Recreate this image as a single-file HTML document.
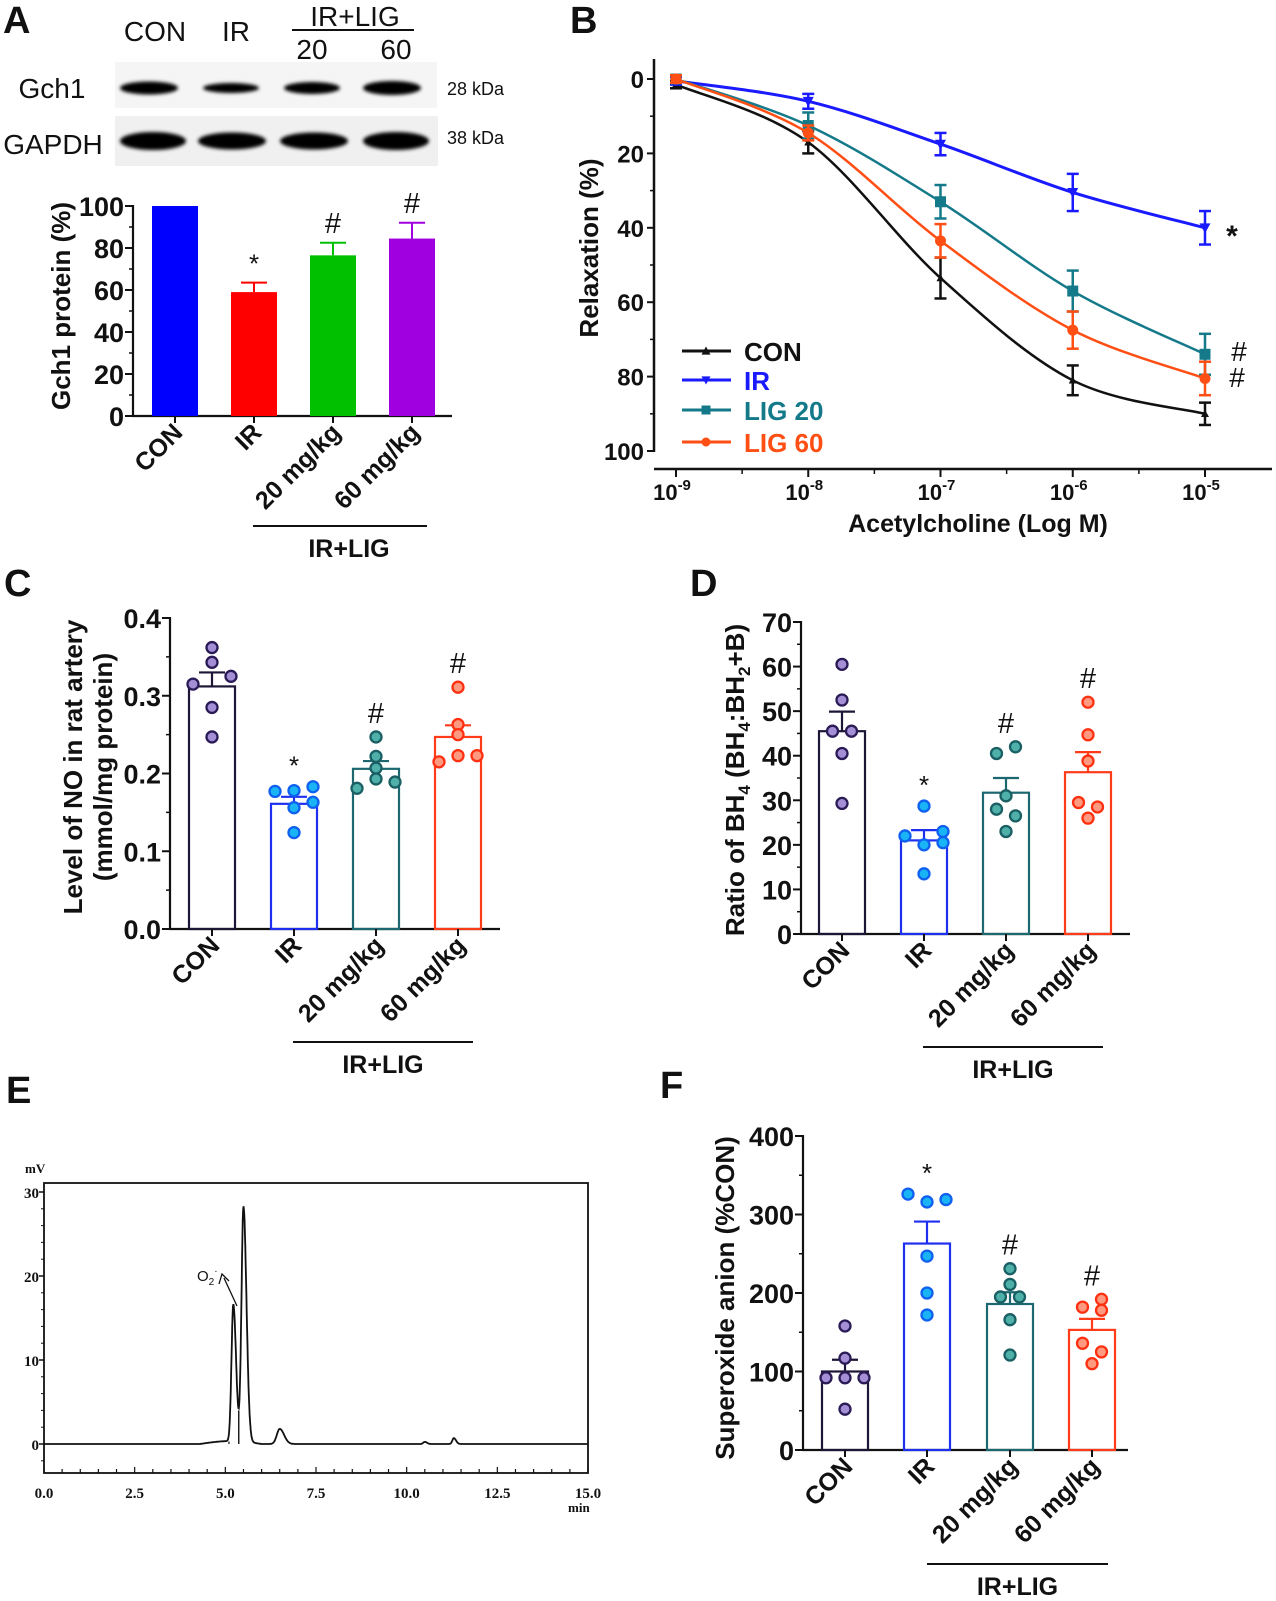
<!DOCTYPE html>
<html><head><meta charset="utf-8">
<style>
html,body{margin:0;padding:0;background:#fff;}
svg{display:block;font-family:"Liberation Sans",Arial,sans-serif;}
</style></head>
<body>
<svg id="fig" width="1276" height="1601" viewBox="0 0 1276 1601" xmlns="http://www.w3.org/2000/svg">
<defs>
<filter id="blur" x="-20%" y="-60%" width="140%" height="220%"><feGaussianBlur stdDeviation="1.8"/></filter>
</defs>
</svg>
<script>
// ---------- Panel A data ----------
const aCats = ["CON","IR","20 mg/kg","60 mg/kg"];
const aMeans = [100, 59, 76.5, 84.5];
const aSem = [0, 4.5, 6, 7.5];
const aColors = ["#0000ff","#ff0000","#00c000","#a000e0"];
const aMarks = ["","*","#","#"];
const aYTicks = [0,20,40,60,80,100];
// ---------- Panel B data ----------
const bXTicks = [-9,-8,-7,-6,-5];
const bYTicks = [0,20,40,60,80,100];
const bSeriesNames = ["CON","IR","LIG 20","LIG 60"];
const bCON = [1.5, 17, 53.5, 81, 90];
const bCONerr = [1, 3, 5.5, 4, 3];
const bIR = [0.5, 6, 17.5, 30.5, 40];
const bIRerr = [1, 2, 3, 5, 4.5];
const bL20 = [0, 12.5, 33, 57, 74];
const bL20err = [1, 3.5, 4.5, 5.5, 5.5];
const bL60 = [0, 14.5, 43.5, 67.5, 80.5];
const bL60err = [1, 2, 4.5, 5, 4.5];
// ---------- Panel C data ----------
const cMeans = [0.312, 0.161, 0.206, 0.247];
const cSem = [0.018, 0.009, 0.010, 0.015];
const cPoints = [[0.362,0.343,0.325,0.315,0.285,0.247],[0.183,0.177,0.178,0.163,0.156,0.124],[0.247,0.222,0.207,0.193,0.189,0.181],[0.311,0.263,0.25,0.223,0.223,0.215]];
const cJitter = [[0,0,1,-1,0,0],[1,-1,0,1,0,0],[0,0,0,0,1,-1],[0,0,0,0,1,-1]];
const cYTicks = [0,0.1,0.2,0.3,0.4];
const cYLabels = ["0.0","0.1","0.2","0.3","0.4"];
// ---------- Panel D data ----------
const dMeans = [45.5, 21, 31.7, 36.3];
const dSem = [4.4, 2.3, 3.3, 4.5];
const dPoints = [[60.5,52.5,45.5,45.5,40.5,29.3],[28.7,23,22,20.5,20,13.5],[42,40.5,31,28,26.5,23],[52,44.7,38.8,29.5,28.5,26]];
const dJitter = [[0,0,-0.5,0.5,0,0],[0,1,-1,1,0,0],[0.5,-0.5,0,-0.5,0.5,0],[0,0,0,-0.5,0.5,0]];
const dYTicks = [0,10,20,30,40,50,60,70];
// ---------- Panel E data ----------
const ePeakTimes = [5.22, 5.5, 6.5, 10.5, 11.3];
const ePeakHeights = [16.3, 28, 1.8, 0.25, 0.7];
const ePeakWidths = [0.05, 0.055, 0.08, 0.04, 0.04];
const eXTicks = [0,2.5,5,7.5,10,12.5,15];
const eXLabels = ["0.0","2.5","5.0","7.5","10.0","12.5","15.0"];
const eYTicks = [0,10,20,30];
// ---------- Panel F data ----------
const fMeans = [100, 263, 186, 153];
const fSem = [15, 28, 15, 14];
const fPoints = [[158,117,92,92,92,52],[326,316,319,247,200,172],[231,211,195,195,166,121],[192,182,178,136,125,110]];
const fJitter = [[0,0,-1,0,1,0],[-1,0,1,0,0,0],[0,0,-0.5,0.5,0,0],[0.5,-0.5,0.5,-0.5,0.5,0]];
const fYTicks = [0,100,200,300,400];

const groupCats = ["CON","IR","20 mg/kg","60 mg/kg"];
const groupStroke = ["#1e1636","#1f2ff0","#1d6870","#ff3b1a"];
const groupFill = ["#a48fd6","#18b4f5","#4fb0aa","#ff9a80"];
const groupDotStroke = ["#2a1a55","#1060f0","#1a5f63","#ff3010"];
const groupMarks = ["","*","#","#"];

const svg = document.getElementById('fig');
const NS = "http://www.w3.org/2000/svg";
function mk(tag, attrs, parent, text){
  const e = document.createElementNS(NS, tag);
  for (const k in attrs) e.setAttribute(k, attrs[k]);
  if (text !== undefined) e.textContent = text;
  (parent||svg).appendChild(e);
  return e;
}
function grp(name, parent){
  const g = mk('g', {}, parent);
  
  
  return g;
}
function txt(parent, x, y, s, size, opts){
  opts = opts || {};
  const t = mk('text', {x:x, y:y, 'font-size':size, 'font-weight':opts.weight||'bold', 'text-anchor':opts.anchor||'middle', fill:opts.fill||'#111'}, parent, s);
  if (opts.transform) t.setAttribute('transform', opts.transform);
  if (opts.family) t.setAttribute('font-family', opts.family);
  
  
  return t;
}
function line(parent, x1,y1,x2,y2, stroke, w){
  return mk('line', {x1:x1,y1:y1,x2:x2,y2:y2,stroke:stroke||'#111','stroke-width':w||2}, parent);
}
function panelLetter(x,y,s){
  txt(svg, x, y, s, 38, {anchor:'start', name:'panel-letter-'+s.toLowerCase()});
}

// ================= PANEL A =================
panelLetter(3,33,"A");
(function(){
  const g = grp('panel-a');
  txt(g,155,41,"CON",28,{weight:'normal',name:'lane-con'});
  txt(g,236,41,"IR",28,{weight:'normal',name:'lane-ir'});
  txt(g,355,26,"IR+LIG",28,{weight:'normal',name:'lane-group-ir-lig'});
  line(g,292,30,414,30,'#111',2);
  txt(g,312,59,"20",28,{weight:'normal',name:'lane-20'});
  txt(g,396,59,"60",28,{weight:'normal',name:'lane-60'});
  txt(g,52,98,"Gch1",28,{weight:'normal',name:'gch1-label'});
  txt(g,53,154,"GAPDH",28,{weight:'normal',name:'gapdh-label'});
  txt(g,447,95,"28 kDa",18,{weight:'normal',anchor:'start',name:'gch1-kda'});
  txt(g,447,144,"38 kDa",18,{weight:'normal',anchor:'start',name:'gapdh-kda'});
  const b1 = mk('rect',{x:115,y:62,width:322,height:46,fill:'#f5f5f5'},g);
   
  const b2 = mk('rect',{x:115,y:116,width:323,height:50,fill:'#f0f0f0'},g);
   
  const g1x=[149,231,312,392], g1w=[58,56,56,58], g1h=[11,8,10,12];
  const g2x=[153,232,314,396], g2w=[66,68,68,66], g2h=[18,17,17,18];
  for(let i=0;i<4;i++){
    const e=mk('ellipse',{cx:g1x[i],cy:88,rx:g1w[i]/2,ry:g1h[i]/2+1,fill:'#000',filter:'url(#blur)'},g);
     
    const f=mk('ellipse',{cx:g2x[i],cy:141,rx:g2w[i]/2,ry:g2h[i]/2,fill:'#000',filter:'url(#blur)'},g);
     
  }
  const X0=133, Y0=416, Y100=206, XE=452;
  const ys = v => Y0 - (v/100)*(Y0-Y100);
  const centers=[175,254,333,412], bw=46;
  line(g,X0,Y100-1,X0,Y0+1,'#111',2.2);
  line(g,X0-1,Y0,XE,Y0,'#111',2.2);
  aYTicks.forEach(t=>{ line(g,X0-8,ys(t),X0,ys(t),'#111',2); txt(g,X0-9,ys(t)+10,String(t),27,{anchor:'end',name:'y-tick-label'}); });
  for(let t=10;t<100;t+=20) line(g,X0-4,ys(t),X0,ys(t),'#111',1.5);
  aCats.forEach((c,i)=>{
    const cx=centers[i];
    const r=mk('rect',{x:cx-bw/2,y:ys(aMeans[i]),width:bw,height:Y0-ys(aMeans[i]),fill:aColors[i]},g);
     
    if(aSem[i]>0){
      line(g,cx,ys(aMeans[i]),cx,ys(aMeans[i]+aSem[i]),aColors[i],2);
      line(g,cx-13,ys(aMeans[i]+aSem[i]),cx+13,ys(aMeans[i]+aSem[i]),aColors[i],2);
    }
    if(aMarks[i]) txt(g,cx,ys(aMeans[i]+aSem[i])-10,aMarks[i],aMarks[i]=="*"?26:29,{weight:'normal',name:'significance-mark'});
    line(g,cx,Y0,cx,Y0+7,'#111',2);
    txt(g,cx+9,Y0+18,c,25,{anchor:'end',transform:`rotate(-45 ${cx+9} ${Y0+18})`,name:'x-category-label'});
  });
  txt(g,0,0,"Gch1 protein (%)",26,{transform:'translate(70 306) rotate(-90)',name:'y-axis-title'});
  line(g,253,526,427,526,'#111',2);
  txt(g,349,557,"IR+LIG",25,{name:'group-label'});
})();

// ================= PANEL B =================
panelLetter(570,33,"B");
(function(){
  const g = grp('panel-b');
  const XA=654, Y0=79, Y100=451, YX=469;
  const xs = v => 676 + (v+9)*(1205-676)/4;
  const ys = v => Y0 + v*(Y100-Y0)/100;
  line(g,XA,59,XA,Y100+1,'#111',2.5);
  line(g,XA,YX,1272,YX,'#111',2.5);
  bYTicks.forEach(t=>{ line(g,XA-7,ys(t),XA,ys(t),'#111',2); txt(g,XA-10,ys(t)+9,String(t),24,{anchor:'end',name:'y-tick-label'}); });
  for(let t=10;t<100;t+=20) line(g,XA-4,ys(t),XA,ys(t),'#111',1.5);
  bXTicks.forEach(t=>{
    line(g,xs(t),YX,xs(t),YX+8,'#111',2);
    const tx=txt(g,xs(t)-4,500,"10",22,{name:'x-tick-label'});
    mk('tspan',{dy:-10,'font-size':15},tx,String(t));
  });
  for(let t=-8.5;t<-4.5;t+=1) line(g,xs(t),YX,xs(t),YX+5,'#111',1.5);
  txt(g,978,532,"Acetylcholine (Log M)",25,{name:'x-axis-title'});
  txt(g,0,0,"Relaxation (%)",26,{transform:'translate(598 248) rotate(-90)',name:'y-axis-title'});
  const series=[[bCON,bCONerr,'#111111','tri'],[bIR,bIRerr,'#1a1aff','tridown'],[bL20,bL20err,'#147a8a','sq'],[bL60,bL60err,'#ff4f14','circ']];
  function curve(vals){
    const pts=[];
    bXTicks.forEach((t,i)=>pts.push([xs(t),ys(vals[i])]));
    let d=`M${pts[0][0]},${pts[0][1]}`;
    for(let i=0;i<pts.length-1;i++){
      const p0=pts[Math.max(0,i-1)],p1=pts[i],p2=pts[i+1],p3=pts[Math.min(pts.length-1,i+2)];
      const c1=[p1[0]+(p2[0]-p0[0])/6,p1[1]+(p2[1]-p0[1])/6];
      const c2=[p2[0]-(p3[0]-p1[0])/6,p2[1]-(p3[1]-p1[1])/6];
      d+=` C${c1[0]},${c1[1]} ${c2[0]},${c2[1]} ${p2[0]},${p2[1]}`;
    }
    return d;
  }
  function marker(parent,x,y,type,col,s){
    let e;
    if(type=='tri') e=mk('polygon',{points:`${x},${y-s} ${x-s},${y+s*0.8} ${x+s},${y+s*0.8}`,fill:col},parent);
    else if(type=='tridown') e=mk('polygon',{points:`${x},${y+s} ${x-s},${y-s*0.8} ${x+s},${y-s*0.8}`,fill:col},parent);
    else if(type=='sq') e=mk('rect',{x:x-s,y:y-s,width:2*s,height:2*s,fill:col},parent);
    else e=mk('circle',{cx:x,cy:y,r:s,fill:col},parent);
     
  }
  series.forEach((s,k)=>{
    const sg=grp('series-'+bSeriesNames[k].replace(' ','').toLowerCase(),g);
    const p=mk('path',{d:curve(s[0]),fill:'none',stroke:s[2],'stroke-width':k==1?3:2.5},sg);
     
    bXTicks.forEach((t,i)=>{
      const x=xs(t),v=s[0][i],e=s[1][i];
      line(sg,x,ys(v-e),x,ys(v+e),s[2],2.5);
      line(sg,x-6,ys(v-e),x+6,ys(v-e),s[2],2.5);
      line(sg,x-6,ys(v+e),x+6,ys(v+e),s[2],2.5);
      marker(sg,x,ys(v),s[3],s[2],k==0?4:5.5);
    });
    const ly=[359,388,418,450][k];
    const lg=grp('legend-entry-'+bSeriesNames[k].replace(' ','').toLowerCase(),g);
    line(lg,682,ly-8,731,ly-8,s[2],3);
    marker(lg,706,ly-8,s[3],s[2],4.5);
    txt(lg,744,ly+2,bSeriesNames[k],26,{anchor:'start',fill:s[2],name:'legend-text'});
  });
  txt(g,1232,246,"*",30,{name:'significance-mark'});
  txt(g,1239,361,"#",28,{weight:'normal',name:'significance-mark'});
  txt(g,1237,387,"#",28,{weight:'normal',name:'significance-mark'});
})();

// ============ generic scatter-bar ============
function scatterBar(name, cfg, means, sem, points, jitter, yticks, ylabels){
  const g = grp(name);
  const ys = v => cfg.y0 - (v - 0)/(cfg.ymax)*(cfg.y0-cfg.ytop);
  line(g,cfg.xa,cfg.ytop-1,cfg.xa,cfg.y0+1,'#111',2.2);
  line(g,cfg.xa-1,cfg.y0,cfg.xe,cfg.y0,'#111',2.2);
  yticks.forEach((t,i)=>{ line(g,cfg.xa-8,ys(t),cfg.xa,ys(t),'#111',2); txt(g,cfg.xa-9,ys(t)+10,ylabels?ylabels[i]:String(t),27,{anchor:'end',name:'y-tick-label'}); });
  for(let i=0;i<yticks.length-1;i++){ const m=(yticks[i]+yticks[i+1])/2; line(g,cfg.xa-4,ys(m),cfg.xa,ys(m),'#111',1.5); }
  groupCats.forEach((c,i)=>{
    const cx=cfg.centers[i], bw=cfg.bw;
    const bg=grp('bar-group-'+c.replace(/[^a-z0-9]/gi,'').toLowerCase(),g);
    const r=mk('rect',{x:cx-bw/2,y:ys(means[i]),width:bw,height:cfg.y0-ys(means[i]),fill:'none',stroke:groupStroke[i],'stroke-width':2.2},bg);
     
    line(bg,cx,ys(means[i]),cx,ys(means[i]+sem[i]),groupStroke[i],2.2);
    line(bg,cx-13,ys(means[i]+sem[i]),cx+13,ys(means[i]+sem[i]),groupStroke[i],2.2);
    points[i].forEach((v,j)=>{
      const p=mk('circle',{cx:cx+jitter[i][j]*cfg.jit,cy:ys(v),r:5.5,fill:groupFill[i],stroke:groupDotStroke[i],'stroke-width':2.3},bg);
       
    });
    if(groupMarks[i]){
      const top=Math.max(means[i]+sem[i],Math.max(...points[i]));
      txt(bg,cx,ys(top)-(groupMarks[i]=="*"?12:14),groupMarks[i],groupMarks[i]=="*"?26:29,{weight:'normal',name:'significance-mark'});
    }
    line(g,cx,cfg.y0,cx,cfg.y0+7,'#111',2);
    txt(g,cx+9,cfg.y0+18,c,25,{anchor:'end',transform:`rotate(-45 ${cx+9} ${cfg.y0+18})`,name:'x-category-label'});
  });
  line(g,cfg.lx1,cfg.ly,cfg.lx2,cfg.ly,'#111',2);
  txt(g,(cfg.lx1+cfg.lx2)/2,cfg.ly+31,"IR+LIG",25,{name:'group-label'});
  return g;
}

// ================= PANEL C =================
panelLetter(4,596,"C");
(function(){
  const g=scatterBar('panel-c',{xa:170,y0:929,ytop:618,ymax:0.4,xe:500,centers:[212,294,376,458],bw:46,jit:19,lx1:293,lx2:473,ly:1042},cMeans,cSem,cPoints,cJitter,cYTicks,cYLabels);
  txt(g,0,0,"Level of NO in rat artery",26,{transform:'translate(82 767) rotate(-90)',name:'y-axis-title'});
  txt(g,0,0,"(mmol/mg protein)",26,{transform:'translate(112 767) rotate(-90)',name:'y-axis-title-unit'});
})();

// ================= PANEL D =================
panelLetter(690,596,"D");
(function(){
  const g=scatterBar('panel-d',{xa:801,y0:934,ytop:622,ymax:70,xe:1130,centers:[842,924,1006,1088],bw:46,jit:19,lx1:923,lx2:1103,ly:1047},dMeans,dSem,dPoints,dJitter,dYTicks);
  const t=txt(g,0,0,"Ratio of BH",26,{transform:'translate(744 780) rotate(-90)',name:'y-axis-title'});
  mk('tspan',{dy:6,'font-size':17},t,"4");
  mk('tspan',{dy:-6},t," (BH");
  mk('tspan',{dy:6,'font-size':17},t,"4");
  mk('tspan',{dy:-6},t,":BH");
  mk('tspan',{dy:6,'font-size':17},t,"2");
  mk('tspan',{dy:-6},t,"+B)");
})();

// ================= PANEL E =================
panelLetter(6,1103,"E");
(function(){
  const g=grp('panel-e');
  const L=44,R=588,T=1183,B=1473;
  const xs=v=>L+v*(R-L)/15;
  const ys=v=>1444-v*8.4;
  const box=mk('rect',{x:L,y:T,width:R-L,height:B-T,fill:'none',stroke:'#111','stroke-width':1.8},g);
   
  eYTicks.forEach(t=>{ line(g,L-5,ys(t),L,ys(t),'#111',1.5); txt(g,L-5,ys(t)+6,String(t),15,{anchor:'end',family:'"Liberation Serif",serif',name:'y-tick-label'}); });
  for(let t=-2;t<=30;t+=2){ line(g,L-3,ys(t),L,ys(t),'#111',1); }
  for(let t=0;t<=15.001;t+=0.5){ line(g,xs(t),B,xs(t),B-((Math.round(t*2)%5==0)?6:4),'#111',1.2); }
  eXTicks.forEach((t,i)=>{ txt(g,xs(t),1498,eXLabels[i],15,{family:'"Liberation Serif",serif',name:'x-tick-label'}); });
  txt(g,568,1512,"min",13,{anchor:'start',family:'"Liberation Serif",serif',name:'x-unit'});
  txt(g,25,1173,"mV",13,{anchor:'start',family:'"Liberation Serif",serif',name:'y-unit'});
  let d='';
  for(let t=0;t<=15;t+=0.01){
    let v=0;
    if(t>4.3&&t<6) v+=0.35*Math.sin(Math.PI*(t-4.3)/1.7);
    for(let k=0;k<ePeakTimes.length;k++){
      const sg=ePeakWidths[k]*(t>ePeakTimes[k]?1.5:1);
      v+=ePeakHeights[k]*Math.exp(-0.5*Math.pow((t-ePeakTimes[k])/sg,2));
    }
    d+=(d?' L':'M')+xs(t).toFixed(1)+','+ys(v).toFixed(1);
  }
  const p=mk('path',{d:d,fill:'none',stroke:'#111','stroke-width':1.8},g);
   
  line(g,xs(5.1),ys(0),xs(5.1),ys(0.3),'#111',1.2);
  line(g,xs(5.37),ys(0),xs(5.37),ys(4),'#111',1.4);
  const t=txt(g,197,1281,"O",15,{weight:'normal',anchor:'start',family:'"Liberation Sans",sans-serif',name:'o2-annotation'});
  mk('tspan',{dy:4,'font-size':10},t,"2");
  mk('tspan',{dy:-11,'font-size':10},t,"·");
  line(g,237,1306,224,1278,'#111',1.3);
  const ar=mk('polyline',{points:'219,1284 222,1274 229,1281',fill:'none',stroke:'#111','stroke-width':1.3},g);
   
})();

// ================= PANEL F =================
panelLetter(660,1098,"F");
(function(){
  const g=scatterBar('panel-f',{xa:803,y0:1450,ytop:1136,ymax:400,xe:1128,centers:[845,927,1010,1092],bw:46,jit:19,lx1:927,lx2:1108,ly:1564},fMeans,fSem,fPoints,fJitter,fYTicks);
  txt(g,0,0,"Superoxide anion (%CON)",26,{transform:'translate(734 1298) rotate(-90)',name:'y-axis-title'});
})();
</script>
</body></html>
